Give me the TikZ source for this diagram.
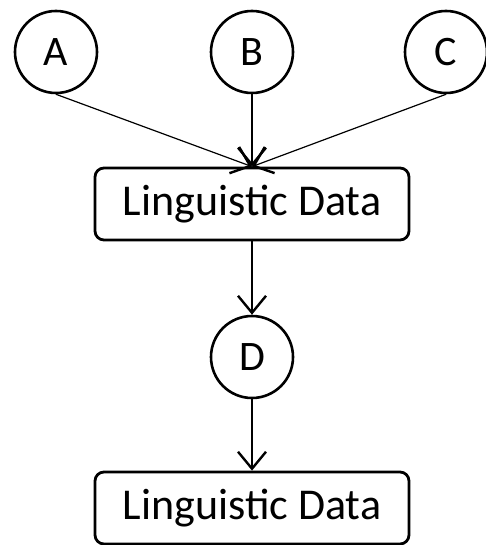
\documentclass[tikz,border=0pt]{standalone}
\usepackage{fontspec}
\setmainfont{Carlito}
\usetikzlibrary{arrows.meta}
\begin{document}
\begin{tikzpicture}[x=1pt,y=-1pt,
  var/.style={circle,draw,line width=2.6pt,minimum size=82pt,inner sep=0pt,font=\fontsize{42}{42}\selectfont},
  databox/.style={rectangle,rounded corners=9pt,draw,line width=2.8pt,minimum width=314pt,minimum height=72pt,inner sep=0pt,font=\fontsize{44}{44}\selectfont},
  link/.style={line width=1.2pt,-{Straight Barb[length=17pt,width=28pt,line width=2.4pt]}}]
\useasboundingbox (0,0) rectangle (485,545);
\node[var] (A) at (56,52) {A};
\node[var] (B) at (252,52) {B};
\node[var] (C) at (446,52) {C};
\node[databox] (L1) at (252,204) {Linguistic Data};
\node[var] (D) at (252,357) {D};
\node[databox] (L2) at (252,508) {Linguistic Data};
\draw[link] (A.south) -- (L1.north);
\draw[link] (B.south) -- (L1.north);
\draw[link] (C.south) -- (L1.north);
\draw[link] (L1.south) -- (D.north);
\draw[link] (D.south) -- (L2.north);
\end{tikzpicture}
\end{document}
